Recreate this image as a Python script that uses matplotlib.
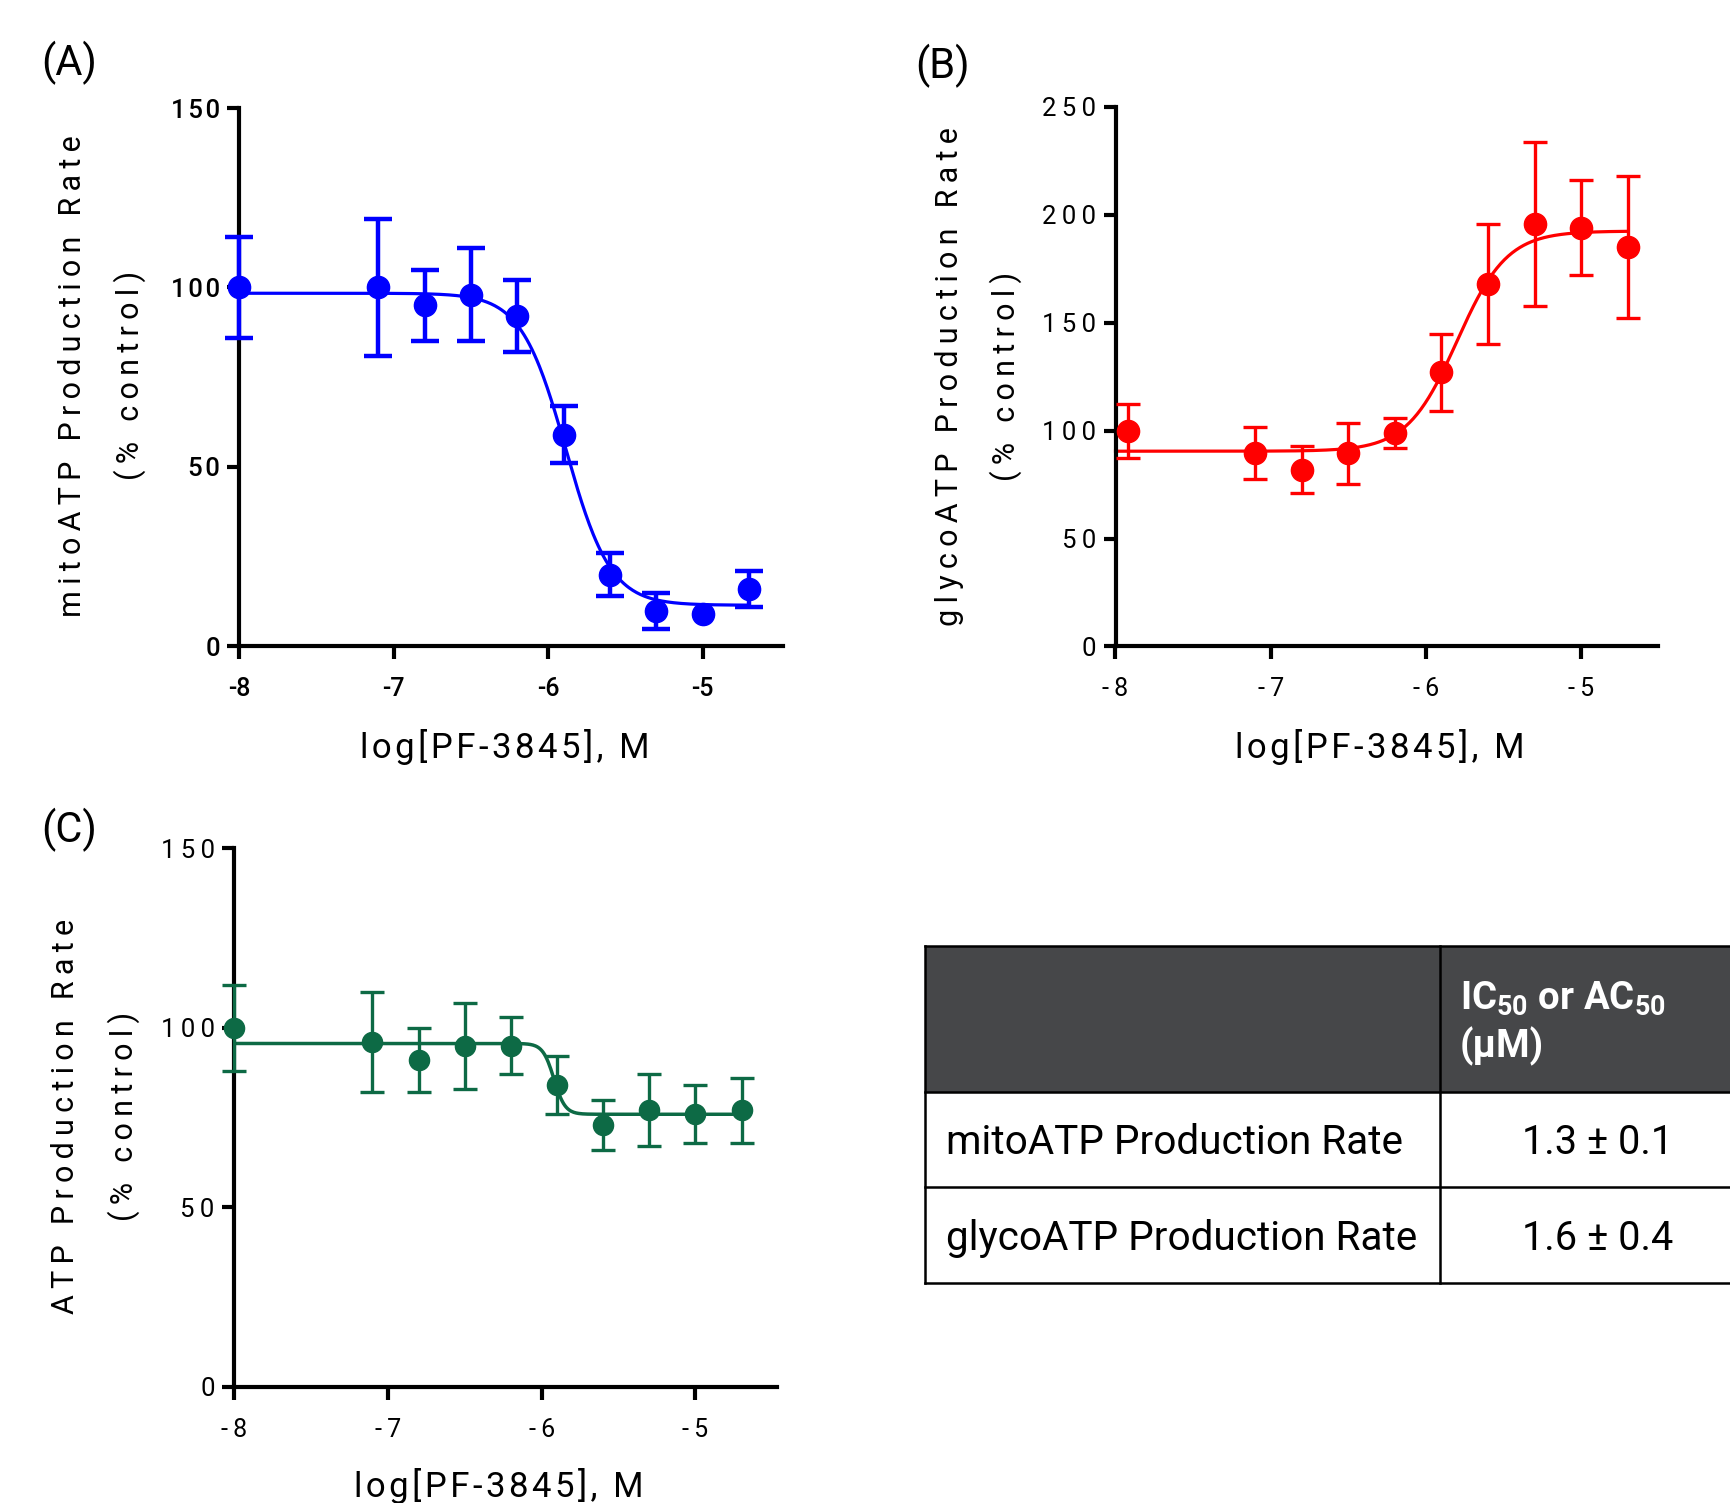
import numpy as np
import matplotlib
matplotlib.use("Agg")
import matplotlib.pyplot as plt
from matplotlib.patches import Rectangle

# ======================
# DADOS
# ======================

# log[PF-3845], M
conc = [-8.0, -7.1, -6.8, -6.5, -6.2, -5.9, -5.6, -5.3, -5.0, -4.7]
conc_glyco = [-7.92, -7.1, -6.8, -6.5, -6.2, -5.9, -5.6, -5.3, -5.0, -4.7]

# (A) mitoATP Production Rate (% control)
# barra em -5.0 menor que o simbolo -> nao aparece
mito_mean = [100, 100, 95, 98, 92, 59, 20, 10, 9, 16]
mito_err = [14, 19, 10, 13, 10, 8, 6, 5, np.nan, 5]

# (B) glycoATP Production Rate (% control)
glyco_mean = [100, 89.5, 82, 89.5, 99, 127, 168, 196, 194, 185]
glyco_err = [12.5, 12, 11, 14, 7, 18, 28, 38, 22, 33]

# (C) ATP Production Rate (% control)
total_mean = [100, 96, 91, 95, 95, 84, 73, 77, 76, 77]
total_err = [12, 14, 9, 12, 8, 8, 7, 10, 8, 9]

# ajustes 4PL: bottom, top, logX50, hill
fit_mito = (11.5, 98.4, -5.886, -3.0)
fit_glyco = (90.5, 192.5, -5.80, 2.7)
fit_total = (75.9, 95.6, -5.92, -12.0)

x_ticks = [-8, -7, -6, -5]
y_ticks_150 = [0, 50, 100, 150]
y_ticks_250 = [0, 50, 100, 150, 200, 250]

# tabela
tab_rows = ["mitoATP Production Rate", "glycoATP Production Rate"]
tab_values = ["1.3 ± 0.1", "1.6 ± 0.4"]

# ======================
# ESTILO
# ======================

plt.rcParams["font.family"] = ["Roboto", "DejaVu Sans"]
plt.rcParams["mathtext.fontset"] = "custom"
plt.rcParams["mathtext.rm"] = "Roboto:bold"
plt.rcParams["mathtext.it"] = "Roboto:bold"
plt.rcParams["mathtext.bf"] = "Roboto:bold"

W, H = 1730, 1503
THIN = "\u2009"
HAIR = "\u200a"


def fx(px):
    return px / W


def fy(py):
    return 1 - py / H


def spaced(s, gap=THIN):
    return gap.join(s)


def four_pl(x, bottom, top, logx50, hill):
    return bottom + (top - bottom) / (1 + 10 ** ((logx50 - x) * hill))


def painel(rect, xs, mean, err, fit, color, ylim, yticks, xlim_right,
           elw, cap, ms, lw, tick_gap, xtick_gap, weight):
    ax = fig.add_axes(rect)
    xx = np.linspace(-8, -4.7, 400)
    ax.plot(xx, four_pl(xx, *fit), color=color, lw=lw, zorder=2, clip_on=False)
    ax.errorbar(xs, mean, yerr=err, fmt="o", ms=ms, color=color, ecolor=color,
                elinewidth=elw, capsize=cap, capthick=elw, clip_on=False, zorder=3)
    ax.set_xlim(-8, xlim_right)
    ax.set_ylim(*ylim)
    ax.set_xticks(x_ticks)
    ax.set_xticklabels([spaced(str(t), xtick_gap) for t in x_ticks],
                       fontsize=18, fontweight=weight)
    ax.set_yticks(yticks)
    ax.set_yticklabels([spaced(str(t), tick_gap) for t in yticks],
                       fontsize=18.5, fontweight=weight)
    for s in ["top", "right"]:
        ax.spines[s].set_visible(False)
    for s in ["left", "bottom"]:
        ax.spines[s].set_linewidth(3)
    ax.tick_params(axis="both", length=9, width=3, color="black")
    ax.tick_params(axis="y", pad=5)
    ax.tick_params(axis="x", pad=13)
    return ax


fig = plt.figure(figsize=(W / 100, H / 100), dpi=100)

# ======================
# (A)
# ======================
painel([fx(239.4), fy(646.5), fx(783) - fx(239.4), fy(108) - fy(646.5)],
       conc, mito_mean, mito_err, fit_mito, "#0000ff", (0, 150), y_ticks_150,
       -4.48, elw=3.2, cap=10.4, ms=16, lw=2.3, tick_gap=HAIR, xtick_gap="",
       weight=500)

# ======================
# (B)
# ======================
painel([fx(1115.5), fy(646.5), fx(1658) - fx(1115.5), fy(107) - fy(646.5)],
       conc_glyco, glyco_mean, glyco_err, fit_glyco, "#ff0000", (0, 250), y_ticks_250,
       -4.505, elw=2.4, cap=8.7, ms=16, lw=2.3, tick_gap=THIN, xtick_gap=THIN,
       weight="normal")

# ======================
# (C)
# ======================
painel([fx(234), fy(1387), fx(777) - fx(234), fy(848) - fy(1387)],
       conc, total_mean, total_err, fit_total, "#0d6a45", (0, 150), y_ticks_150,
       -4.47, elw=2.4, cap=8.7, ms=14.5, lw=2.5, tick_gap=THIN, xtick_gap=THIN,
       weight="normal")

# rotulos dos eixos
lab = dict(fontsize=22, ha="center", va="center")
fig.text(fx(73), fy(376), spaced("mitoATP Production Rate"), rotation=90, **lab)
fig.text(fx(130), fy(375), spaced("(% control)"), rotation=90, **lab)
fig.text(fx(949), fy(377), spaced("glycoATP Production Rate"), rotation=90, **lab)
fig.text(fx(1006), fy(376), spaced("(% control)"), rotation=90, **lab)
fig.text(fx(66), fy(1116), spaced("ATP Production Rate"), rotation=90, **lab)
fig.text(fx(124), fy(1116), spaced("(% control)"), rotation=90, **lab)

xl = "log[PF-3845], M"
xlab = dict(fontsize=25, ha="center", va="center")
fig.text(fx(505), fy(747), spaced(xl, HAIR), **xlab)
fig.text(fx(1380), fy(747), spaced(xl, HAIR), **xlab)
fig.text(fx(499), fy(1486), spaced(xl, HAIR), **xlab)

# letras dos paineis
fig.text(fx(69.5), fy(63), "(A)", fontsize=30, ha="center", va="center")
fig.text(fx(943), fy(66), "(B)", fontsize=30, ha="center", va="center")
fig.text(fx(69.5), fy(830), "(C)", fontsize=30, ha="center", va="center")

# ======================
# TABELA
# ======================
tx0, ty0, tx1, ty1 = 925, 945.5, 1730, 1283
tab = fig.add_axes([fx(tx0), fy(ty1), fx(tx1) - fx(tx0), fy(ty0) - fy(ty1)])
tab.set_xlim(tx0, tx1)
tab.set_ylim(ty1, ty0)
tab.axis("off")

row_edges = [945.5, 1092, 1187, 1283]
col_div = 1440
tab.add_patch(Rectangle((tx0, row_edges[0]), 900, row_edges[1] - row_edges[0],
                        facecolor="#464749", edgecolor="none", clip_on=False))
for yv in row_edges:
    tab.plot([tx0, 1800], [yv, yv], color="black", lw=1.8, clip_on=False)
for xv in [tx0, col_div]:
    tab.plot([xv, xv], [row_edges[0], row_edges[-1]], color="black", lw=1.8, clip_on=False)

tab.text(1460, 999, r"IC$_{50}$ or AC$_{50}$", fontsize=27.5, fontweight="bold",
         color="white", ha="left", va="center")
tab.text(1460, 1046, "(µM)", fontsize=27.5, fontweight="bold", color="white",
         ha="left", va="center")

for i, (nome, val) in enumerate(zip(tab_rows, tab_values)):
    yc = (row_edges[i + 1] + row_edges[i + 2]) / 2 + 3
    tab.text(945.5, yc, nome, fontsize=29.2, ha="left", va="center")
    tab.text(1598, yc, val, fontsize=28.5, ha="center", va="center")

fig.savefig("out.png", dpi=100)
